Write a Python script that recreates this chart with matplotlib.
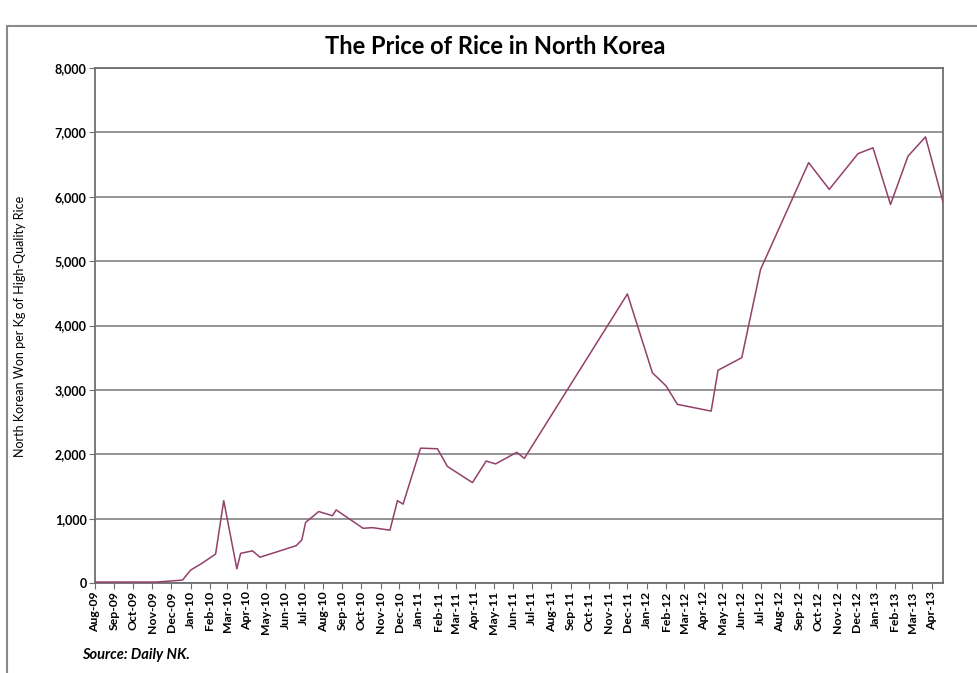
import numpy as np
import pandas as pd
import matplotlib.pyplot as plt
import matplotlib.dates as mdates
from matplotlib.patches import Rectangle

plt.rcParams['font.family'] = ['Lato', 'DejaVu Sans']

# ---- datos
fechas = ['2009-08-01', '2009-11-07', '2009-11-28', '2009-12-19', '2010-01-01',
          '2010-01-19', '2010-02-10', '2010-02-23', '2010-03-16', '2010-03-22',
          '2010-04-10', '2010-04-22', '2010-06-19', '2010-06-28', '2010-07-04',
          '2010-07-25', '2010-08-16', '2010-08-22', '2010-10-04', '2010-10-19',
          '2010-11-16', '2010-11-28', '2010-12-07', '2011-01-04', '2011-01-31',
          '2011-02-16', '2011-03-28', '2011-04-19', '2011-05-04', '2011-06-07',
          '2011-06-19', '2011-12-01', '2012-01-10', '2012-02-01', '2012-02-19',
          '2012-04-13', '2012-04-24', '2012-06-01', '2012-07-01', '2012-09-16',
          '2012-10-19', '2012-12-04', '2012-12-28', '2013-01-25', '2013-02-22',
          '2013-03-22', '2013-04-19']
precios = [15, 15, 30, 45, 200,
           305, 450, 1280, 220, 460,
           500, 400, 580, 670, 940,
           1110, 1045, 1135, 850, 860,
           820, 1280, 1225, 2095, 2085,
           1810, 1560, 1895, 1850, 2030,
           1935, 4490, 3265, 3060, 2775,
           2670, 3305, 3500, 4870, 6530,
           6115, 6670, 6760, 5880, 6630,
           6930, 5920]
meses = pd.date_range('2009-08-01', '2013-04-01', freq='MS')
y_ticks = [0, 1000, 2000, 3000, 4000, 5000, 6000, 7000, 8000]

x = pd.to_datetime(fechas)

fig = plt.figure(figsize=(9.77, 6.73), dpi=100)
ax = fig.add_axes([95/977, 90/673, 848/977, 515/673])

# marco exterior del grafico
fig.patches.append(Rectangle((7/977, -0.1), 1.2, (673-26)/673 + 0.1,
                             transform=fig.transFigure, fill=False,
                             edgecolor='#8a8a8a', lw=1.5))

ax.plot(x, precios, color='#93406a', lw=1.1, zorder=3)

ax.set_xlim(x[0], x[-1])
ax.set_ylim(0, 8000)
ax.set_yticks(y_ticks)
ax.set_yticklabels(['{:,}'.format(v) for v in y_ticks], fontsize=9, fontweight='bold')
ax.set_xticks(meses)
ax.set_xticklabels([m.strftime('%b-%y') for m in meses], rotation=90,
                   fontsize=8.8, fontweight='bold')
ax.grid(axis='y', color='#8c8c8c', lw=1.3)
ax.set_axisbelow(True)
for s in ax.spines.values():
    s.set_color('#6e6e6e')
    s.set_linewidth(1.3)
ax.tick_params(axis='both', length=4, color='#6e6e6e', pad=2)

fig.text(495/977, 1 - 47/673, 'The Price of Rice in North Korea', ha='center',
         va='center', fontsize=17, fontweight='bold')
fig.text(20/977, 1 - 326/673, 'North Korean Won per Kg of High-Quality Rice',
         rotation=90, ha='center', va='center', fontsize=9)
fig.text(82/977, 1 - 655/673, 'Source: Daily NK.', fontsize=10.5,
         fontweight='bold', fontstyle='italic', va='center')

fig.savefig('out.png', dpi=100)
